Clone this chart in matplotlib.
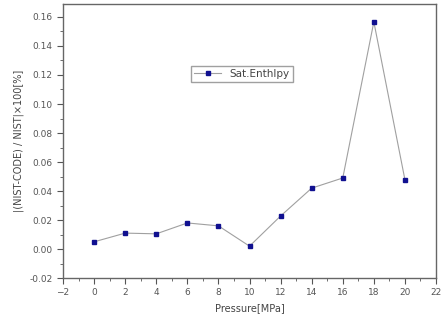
import matplotlib
matplotlib.use("Agg")
import matplotlib.pyplot as plt
from matplotlib.ticker import MultipleLocator

pressure = [0, 2, 4, 6, 8, 10, 12, 14, 16, 18, 20]
sat_enthalpy = [0.005, 0.011, 0.0105, 0.018, 0.016, 0.002, 0.0228, 0.042, 0.049, 0.1566, 0.0478]

fig = plt.figure(figsize=(4.44, 3.26), dpi=100)
ax = fig.add_axes([0.142, 0.147, 0.840, 0.841])
ax.plot(pressure, sat_enthalpy, color="#a0a0a0", lw=0.8, marker="s", ms=3.3,
        mfc="#101090", mec="#101090", label="Sat.Enthlpy")
ax.set_xlim(-2, 22)
ax.set_ylim(-0.02, 0.169)
ax.xaxis.set_major_locator(MultipleLocator(2))
ax.xaxis.set_minor_locator(MultipleLocator(1))
ax.yaxis.set_minor_locator(MultipleLocator(0.01))
yt = [i * 0.02 for i in range(-1, 9)]
ax.set_yticks(yt)
ax.set_yticklabels([f"{v:.2f}" for v in yt])
ax.tick_params(axis="both", which="major", labelsize=6.5, length=4, width=0.8, colors="#555555")
ax.tick_params(axis="both", which="minor", length=2, width=0.6, colors="#555555")
for s in ax.spines.values():
    s.set_color("#666666")
    s.set_linewidth(1.0)
ax.set_xlabel("Pressure[MPa]", fontsize=7, color="#444444")
ax.set_ylabel("|(NIST-CODE) / NIST|\u00d7100[%]", fontsize=7, color="#444444")
leg = ax.legend(loc="center", bbox_to_anchor=(0.48, 0.745), fontsize=7.5,
                frameon=True, fancybox=False, edgecolor="#888888",
                handlelength=2.6, borderpad=0.3)
for t in leg.get_texts():
    t.set_color("#444444")
fig.savefig("out.png", dpi=100)
